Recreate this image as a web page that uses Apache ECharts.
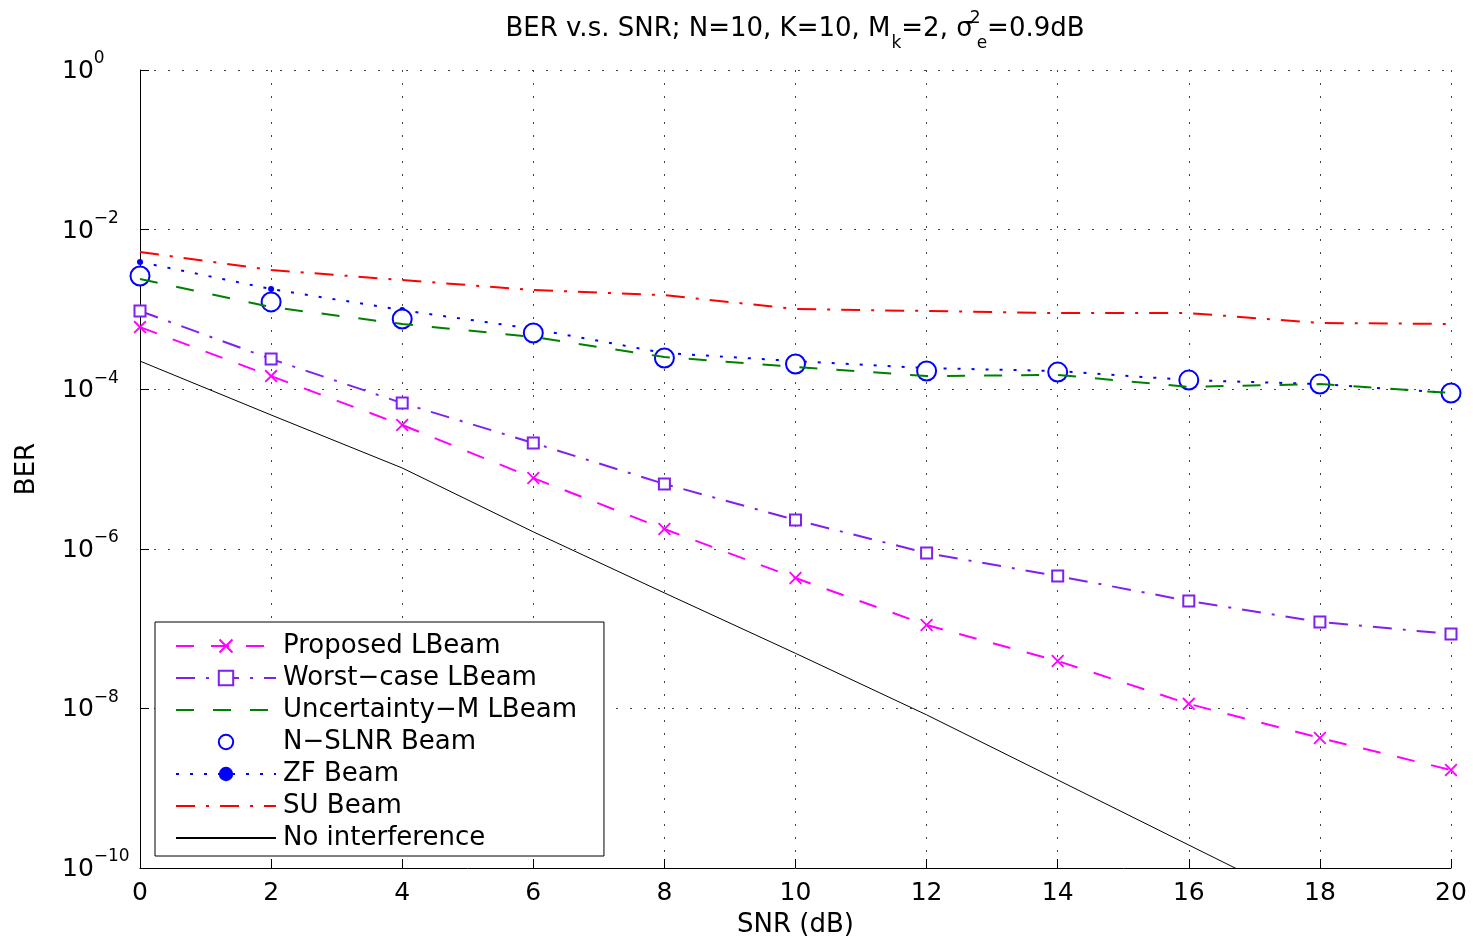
<!DOCTYPE html>
<html>
<head>
<meta charset="utf-8">
<script src="https://cdn.jsdelivr.net/npm/echarts@6/dist/echarts.min.js"></script>
<style>
  html, body { margin: 0; padding: 0; background: #fff; }
  #chart { width: 1473px; height: 943px; }
</style>
</head>
<body>
<div id="chart"></div>
<script>
const snr = [0, 2, 4, 6, 8, 10, 12, 14, 16, 18, 20]
const proposed = [6.0e-4, 1.46e-4, 3.56e-5, 7.7e-6, 1.77e-6, 4.3e-7, 1.11e-7, 3.93e-8, 1.14e-8, 4.26e-9, 1.69e-9]
const worstCase = [9.55e-4, 2.39e-4, 6.7e-5, 2.12e-5, 6.5e-6, 2.3e-6, 8.85e-7, 4.56e-7, 2.22e-7, 1.21e-7, 8.55e-8]
const uncertaintyM = [2.4e-3, 1.07e-3, 6.56e-4, 4.51e-4, 2.53e-4, 1.9e-4, 1.46e-4, 1.51e-4, 1.07e-4, 1.16e-4, 8.96e-5]
const nSlnr = [2.62e-3, 1.24e-3, 7.58e-4, 5.06e-4, 2.46e-4, 2.07e-4, 1.69e-4, 1.64e-4, 1.3e-4, 1.16e-4, 8.96e-5]
const zf = [3.93e-3, 1.8e-3, 9.8e-4, 5.7e-4, 2.84e-4, 2.25e-4, 1.84e-4, 1.69e-4, 1.3e-4, 1.16e-4, 8.96e-5]
const su = [5.24e-3, 3.12e-3, 2.33e-3, 1.75e-3, 1.51e-3, 1.01e-3, 9.55e-4, 9.0e-4, 9.0e-4, 6.76e-4, 6.56e-4]
const noInterf = [2.25e-4, 4.75e-5, 1.03e-5, 1.63e-6, 2.8e-7, 4.9e-8, 8.3e-9, 1.27e-9, 1.94e-10, 2.97e-11, 4.6e-12]
const names = ['Proposed LBeam', 'Worst\u2212case LBeam', 'Uncertainty\u2212M LBeam', 'N\u2212SLNR Beam', 'ZF Beam', 'SU Beam', 'No interference']

const FONT = 'DejaVu Sans'
const FS = 26
const TICK_FS = 25
const pairs = arr => arr.map((v, i) => [snr[i], v])
// X marker (MATLAB 'x')
const crossPath = 'path://M0,2 L2,0 L20,18 L18,20 Z M18,0 L20,2 L2,20 L0,18 Z'
const noSymbol = { itemStyle: { opacity: 0 } }

const chart = echarts.init(document.getElementById('chart'))

const option = {
  backgroundColor: '#fff',
  animation: false,
  graphic: [
    {
      type: 'text',
      x: 795,
      y: 17,
      style: {
        text: '{m|BER v.s. SNR; N=10, K=10, M}{sub|k}{m|=2, σ}{sup|2}{sub|e}{m|=0.9dB}',
        align: 'center',
        verticalAlign: 'top',
        fontFamily: FONT,
        fontSize: FS,
        fill: '#000',
        rich: {
          m: { fontSize: FS, fontFamily: FONT, lineHeight: 24, fill: '#000' },
          sup: { fontSize: 17, fontFamily: FONT, lineHeight: 16, padding: [0, 0, 20, 2], width: 1, fill: '#000' },
          sub: { fontSize: 17, fontFamily: FONT, lineHeight: 16, padding: [30, 0, 0, 1], fill: '#000' },
        },
      },
    },
  ],
  grid: { left: 140, right: 22, top: 70, bottom: 75 },
  legend: {
    orient: 'vertical',
    left: 155,
    top: 622,
    padding: [11, 27, 5, 20],
    itemGap: 6,
    itemWidth: 100,
    itemHeight: 18,
    backgroundColor: '#fff',
    borderColor: '#000',
    borderWidth: 1,
    borderRadius: 0,
    textStyle: { fontSize: FS, fontFamily: FONT, color: '#000', lineHeight: 26, padding: [0, 0, 0, 2] },
    data: [
      { name: names[0] },
      { name: names[1] },
      Object.assign({ name: names[2] }, noSymbol),
      { name: names[3] },
      { name: names[4] },
      Object.assign({ name: names[5] }, noSymbol),
      Object.assign({ name: names[6] }, noSymbol),
    ],
  },
  xAxis: {
    type: 'value',
    min: 0,
    max: 20,
    interval: 2,
    name: 'SNR (dB)',
    nameLocation: 'middle',
    nameGap: 44,
    nameTextStyle: { fontSize: FS, fontFamily: FONT, color: '#000' },
    axisLine: { lineStyle: { color: '#000', width: 1 } },
    axisTick: { inside: true, length: 9, lineStyle: { color: '#000' } },
    axisLabel: { fontSize: TICK_FS, fontFamily: FONT, color: '#000', margin: 13 },
    splitLine: { show: true, lineStyle: { color: '#444', width: 1, type: [2, 11] } },
  },
  yAxis: {
    type: 'log',
    logBase: 10,
    min: 1e-10,
    max: 1,
    interval: 2,
    name: 'BER',
    nameLocation: 'middle',
    nameGap: 100,
    nameTextStyle: { fontSize: FS, fontFamily: FONT, color: '#000' },
    axisLine: { show: true, lineStyle: { color: '#000', width: 1 } },
    axisTick: { inside: true, length: 9, lineStyle: { color: '#000' } },
    minorTick: { show: false },
    axisLabel: {
      align: 'left',
      margin: 78,
      formatter: v => {
        const e = Math.round(Math.log10(v))
        return '{m|10}{sup|' + (e < 0 ? '\u2212' + (-e) : e) + '}'
      },
      rich: {
        m: { fontSize: TICK_FS, fontFamily: FONT, color: '#000', lineHeight: 24, padding: [3, 0, 0, 0] },
        sup: { fontSize: 17, fontFamily: FONT, color: '#000', lineHeight: 16, padding: [0, 0, 22, 0] },
      },
    },
    splitLine: { show: true, lineStyle: { color: '#444', width: 1, type: [2, 12] } },
  },
  series: [
    {
      name: names[0],
      type: 'line',
      data: pairs(proposed),
      symbol: crossPath,
      symbolSize: 13,
      itemStyle: { color: '#FF00FF' },
      lineStyle: { color: '#FF00FF', width: 2, type: [18, 17] },
      z: 7,
    },
    {
      name: names[1],
      type: 'line',
      data: pairs(worstCase),
      symbol: 'emptyRect',
      symbolSize: 11,
      itemStyle: { color: '#8020EE', borderWidth: 2 },
      lineStyle: { color: '#8020EE', width: 2, type: [19, 11, 3, 11] },
      z: 6,
    },
    {
      name: names[2],
      type: 'line',
      data: pairs(uncertaintyM),
      symbol: 'none',
      itemStyle: { color: '#008000' },
      lineStyle: { color: '#008000', width: 2, type: [18, 19] },
      z: 5,
    },
    {
      name: names[3],
      type: 'line',
      data: pairs(nSlnr),
      symbol: 'emptyCircle',
      symbolSize: 19,
      itemStyle: { color: '#0000FF', borderWidth: 3 },
      lineStyle: { width: 0, opacity: 0 },
      z: 4,
    },
    {
      name: names[4],
      type: 'line',
      data: pairs(zf),
      symbol: 'circle',
      symbolSize: 6,
      itemStyle: { color: '#0000FF' },
      lineStyle: { color: '#0000FF', width: 2, type: [3, 11] },
      z: 3,
    },
    {
      name: names[5],
      type: 'line',
      data: pairs(su),
      symbol: 'none',
      itemStyle: { color: '#FF0000' },
      lineStyle: { color: '#FF0000', width: 2, type: [19, 11, 3, 11] },
      z: 2,
    },
    {
      name: names[6],
      type: 'line',
      data: pairs(noInterf),
      symbol: 'none',
      itemStyle: { color: '#000' },
      lineStyle: { color: '#000', width: 1 },
      z: 1,
    },
  ],
}

chart.setOption(option)
</script>
</body>
</html>
